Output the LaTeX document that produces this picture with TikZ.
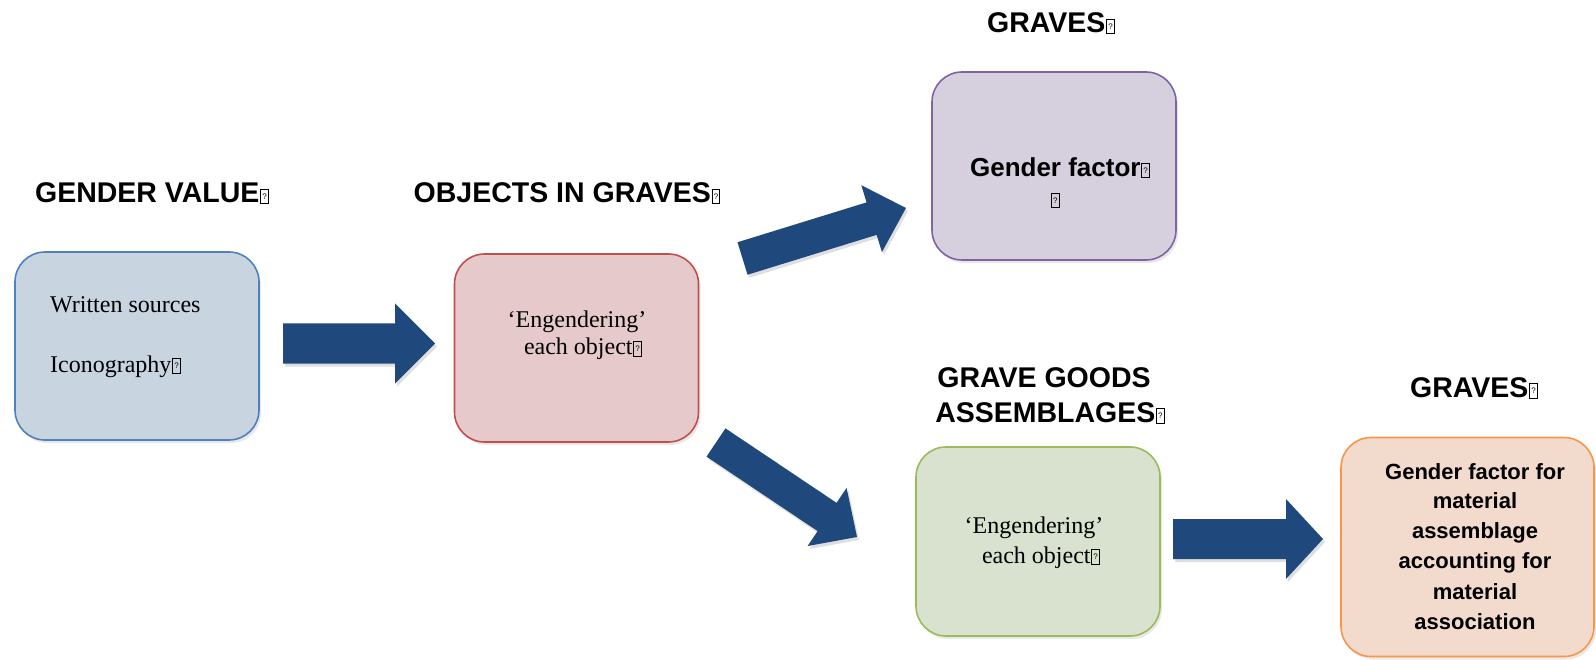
\documentclass[tikz,border=0pt]{standalone}
\usepackage{fontspec}
\setmainfont{Liberation Serif}
\newfontfamily\sansfont{Liberation Sans}
\usetikzlibrary{calc,shadows}
\definecolor{arrowblue}{RGB}{31,73,125}
\definecolor{bluefill}{RGB}{201,212,225}
\definecolor{blueline}{RGB}{79,129,189}
\definecolor{redfill}{RGB}{230,201,203}
\definecolor{redline}{RGB}{192,80,77}
\definecolor{purplefill}{RGB}{213,207,222}
\definecolor{purpleline}{RGB}{128,100,162}
\definecolor{greenfill}{RGB}{216,226,207}
\definecolor{greenline}{RGB}{155,187,89}
\definecolor{orangefill}{RGB}{242,218,205}
\definecolor{orangeline}{RGB}{247,150,70}
\newcommand\gbox{\kern0.8pt{\setlength\fboxsep{0.5pt}\setlength\fboxrule{0.8pt}\fbox{\vbox to 12.5pt{\vss\hbox to 6pt{\hss\normalfont\sansfont\fontsize{8}{8}\selectfont ?\hss}\vss}}}}
% #1 tail, #2 tip, #3 shaft half width, #4 head half width, #5 head length, #6 id
\newcommand\blockarrow[6]{%
  \path ($(#2)!#5pt!(#1)$) coordinate (#6hb);
  \fill[arrowfill]
    ($(#1)!#3pt!90:(#2)$) -- ($(#6hb)!#3pt!90:(#2)$) -- ($(#6hb)!#4pt!90:(#2)$)
    -- (#2) -- ($(#6hb)!#4pt!-90:(#2)$) -- ($(#6hb)!#3pt!-90:(#2)$)
    -- ($(#1)!#3pt!-90:(#2)$) -- cycle;}
\tikzset{
  box/.style={draw, line width=1.6pt, rounded corners=30pt, inner sep=0pt,
    minimum width=244pt, minimum height=188pt,
    drop shadow={opacity=0.18, shadow xshift=2pt, shadow yshift=-3pt}},
  arrowfill/.style={fill=arrowblue,
    drop shadow={opacity=0.25, shadow xshift=2pt, shadow yshift=-3pt}},
  title/.style={font=\sansfont\bfseries\fontsize{28.5}{34}\selectfont, inner sep=0pt, anchor=base},
  serifline/.style={font=\fontsize{24}{28}\selectfont, inner sep=0pt, anchor=base},
  boldline/.style={font=\sansfont\bfseries\fontsize{26}{30}\selectfont, inner sep=0pt, anchor=base},
  smallbold/.style={font=\sansfont\bfseries\fontsize{22}{30}\selectfont, inner sep=0pt, anchor=base},
}
\begin{document}
\begin{tikzpicture}[x=1pt,y=-1pt]
\useasboundingbox (0,0) rectangle (1596,660);
% boxes
\node[box, draw=blueline, fill=bluefill] (b1) at (137,346) {};
\node[box, draw=redline, fill=redfill] (b2) at (576.5,348) {};
\node[box, draw=purpleline, fill=purplefill] (b3) at (1054,166) {};
\node[box, draw=greenline, fill=greenfill, minimum height=189pt] (b4) at (1038,541.5) {};
\node[box, draw=orangeline, fill=orangefill, minimum width=253pt, minimum height=219pt] (b5) at (1467.5,547) {};
% titles
\node[title] (t1) at (152,203) {GENDER VALUE\gbox};
\node[title] (t2) at (567,203) {OBJECTS IN GRAVES\gbox};
\node[title] (t3) at (1051,33) {GRAVES\gbox};
\node[title] (t4a) at (1044,388) {GRAVE GOODS};
\node[title] (t4b) at (1050,422) {ASSEMBLAGES\gbox};
\node[title] (t5) at (1474,397) {GRAVES\gbox};
% blue box text
\node[serifline, anchor=base west] (w1) at (50,313) {Written sources};
\node[serifline, anchor=base west] (w2) at (50,372) {Iconography\gbox};
% red box text
\node[serifline] (r1) at (577,327) {‘Engendering’};
\node[serifline] (r2) at (583,355) {each object\gbox};
% purple box text
\node[boldline] (p1) at (1060,177) {Gender factor\gbox};
\node[boldline] (p2) at (1055,207) {\gbox};
% green box text
\node[serifline] (g1) at (1034,533) {‘Engendering’};
\node[serifline] (g2) at (1041,563) {each object\gbox};
% orange box text
\node[smallbold] (o1) at (1475,479) {Gender factor for};
\node[smallbold] (o2) at (1475,508) {material};
\node[smallbold] (o3) at (1475,538) {assemblage};
\node[smallbold] (o4) at (1475,568) {accounting for};
\node[smallbold] (o5) at (1475,599) {material};
\node[smallbold] (o6) at (1475,629) {association};
% arrows
\coordinate (a1s) at (283,343.5);  \coordinate (a1e) at (435,343.5);
\coordinate (a2s) at (742.5,258.5); \coordinate (a2e) at (906,208);
\coordinate (a3s) at (716,442.5);  \coordinate (a3e) at (857,537);
\coordinate (a4s) at (1173,539);   \coordinate (a4e) at (1323,539);
\blockarrow{a1s}{a1e}{20}{40}{40}{a1}
\blockarrow{a2s}{a2e}{17}{35}{36}{a2}
\blockarrow{a3s}{a3e}{17}{35}{36}{a3}
\blockarrow{a4s}{a4e}{20}{40}{37}{a4}
\end{tikzpicture}
\end{document}
